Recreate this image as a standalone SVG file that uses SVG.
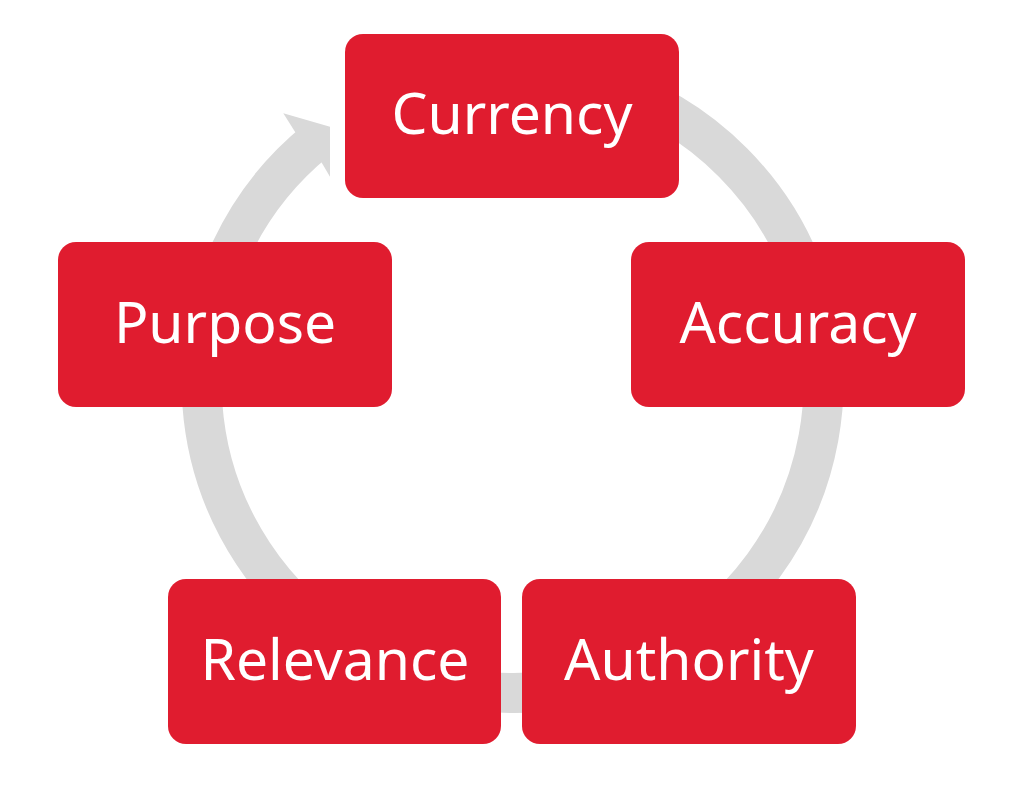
<svg xmlns="http://www.w3.org/2000/svg" width="1015" height="798" viewBox="0 0 1015 798">
<style>
.node{fill:#E01C2F}
.lbl{font-family:"Noto Sans","Open Sans",sans-serif;font-size:57px;fill:#FFFFFF;text-anchor:middle}
.ring{fill:none;stroke:#D9D9D9;stroke-width:40}
.head{fill:#D9D9D9}
</style>
<rect width="1015" height="798" fill="#FFFFFF"/>
<g id="connectors">
<path class="ring" d="M 316.8 140.3 A 311 311 0 1 0 458.5 75.7"/>
<polygon class="head" points="321.6,162.4 295.3,132.2 283.3,113.3 330,126.7 330,176.7"/>
</g>
<g id="currency"><rect class="node" x="345" y="34" width="334" height="164" rx="18"/><text class="lbl" x="512" y="134">Currency</text></g>
<g id="accuracy"><rect class="node" x="631" y="242" width="334" height="165" rx="18"/><text class="lbl" x="798" y="343">Accuracy</text></g>
<g id="authority"><rect class="node" x="522" y="579" width="334" height="165" rx="18"/><text class="lbl" x="689" y="680">Authority</text></g>
<g id="relevance"><rect class="node" x="168" y="579" width="333" height="165" rx="18"/><text class="lbl" x="335" y="680">Relevance</text></g>
<g id="purpose"><rect class="node" x="58" y="242" width="334" height="165" rx="18"/><text class="lbl" x="225" y="343">Purpose</text></g>
</svg>
